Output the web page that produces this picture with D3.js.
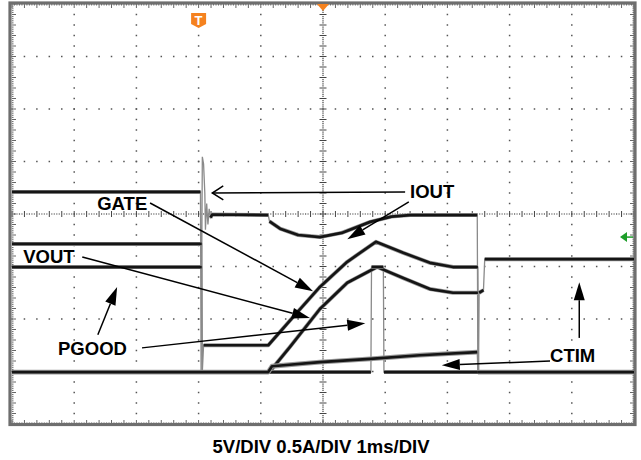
<!DOCTYPE html>
<html>
<head>
<meta charset="utf-8">
<script src="https://cdn.jsdelivr.net/npm/d3@7"></script>
<style>
  html, body { margin: 0; padding: 0; background: #fff; }
  svg { display: block; font-family: "Liberation Sans", Arial, sans-serif; }
</style>
</head>
<body>
<script>
'use strict';

// time in ms (1 ms/div), level in divisions from the bottom of the screen
let iout = [[0,4.42],[3.03,4.42],[3.04,1.0],[3.06,5.09],[3.08,4.95],[3.10,4.4],[3.11,3.7],[3.13,4.2],
  [3.15,3.8],[3.17,4.1],[3.19,3.93],[3.22,3.99],[4.12,3.98],[4.14,3.86],[4.31,3.72],[4.6,3.60],
  [4.95,3.56],[5.3,3.64],[5.76,3.85],[6.1,3.95],[6.4,3.98],[7.48,3.98],[7.49,1.0]];
let gate = [[0,3.43],[3.05,3.43],[3.06,1.0],[3.08,1.5],[4.12,1.5],[4.55,2.08],[4.95,2.61],[5.39,3.09],
  [5.85,3.47],[6.29,3.26],[6.72,3.07],[7.09,2.99],[7.49,2.99],[7.50,1.0]];
let vout = [[0,0.99],[4.12,0.99],[4.18,1.05],[4.47,1.47],[4.95,2.19],[5.39,2.69],[5.87,2.99],
  [6.29,2.78],[6.72,2.57],[7.09,2.50],[7.49,2.50],[7.50,0.99],[10,0.99]];
let pgood = [[0,2.99],[3.05,2.99],[3.06,0.99],[5.77,0.99],[5.78,2.99],[5.97,2.99],[5.98,0.99],
  [7.50,0.99],[7.51,2.50],[7.58,2.55],[7.60,3.14],[10,3.14]];
let ctim = [[0,0.99],[4.12,0.99],[4.18,1.10],[4.95,1.18],[5.76,1.24],[6.56,1.31],[7.48,1.37],
  [7.49,0.99],[10,0.99]];

let labels = ["IOUT", "GATE", "VOUT", "PGOOD", "CTIM"];
let labelPos = [[6.40,4.30],[1.37,4.07],[0.18,3.06],[0.74,1.32],[8.65,1.18]];
// arrows: [from, to, filled]
let arrows = [
  [[6.32,4.42],[3.22,4.40],false],
  [[6.38,4.23],[5.39,3.52],true],
  [[2.22,4.21],[4.84,2.53],true],
  [[1.13,3.18],[4.79,2.02],true],
  [[1.38,1.70],[1.69,2.61],true],
  [[2.09,1.45],[5.68,1.92],true],
  [[9.12,1.64],[9.12,2.70],true],
  [[8.65,1.20],[6.91,1.12],true]
];
let caption = "5V/DIV 0.5A/DIV 1ms/DIV";
let triggerTime = 3.0;
let greenLevel = 3.56;

let svg = d3.select("body").append("svg")
  .attr("width", 641)
  .attr("height", 460);

let x = d3.scaleLinear().domain([0, 10]).range([12, 634]);
let y = d3.scaleLinear().domain([0, 8]).range([424, 4]);

drawGrid();
drawTraces();
drawMarkers();
drawNotes();

function drawGrid() {
  let g = svg.append("g").attr("fill", "#555");

  // dotted division lines
  for (let i = 1; i < 10; i++) {
    if (i === 5) continue;
    for (let k = 0; k <= 40; k++) {
      g.append("rect").attr("x", x(i) - 0.75).attr("y", y(k / 5) - 0.75)
        .attr("width", 1.5).attr("height", 1.5);
    }
  }
  for (let j = 1; j < 8; j++) {
    if (j === 4) continue;
    for (let k = 0; k <= 50; k++) {
      g.append("rect").attr("x", x(k / 5) - 0.75).attr("y", y(j) - 0.75)
        .attr("width", 1.5).attr("height", 1.5);
    }
  }

  // centre axes with minor ticks
  let c = svg.append("g").attr("stroke", "#444").attr("stroke-width", 1);
  for (let k = 0; k <= 250; k++) {
    let t = k / 25;
    let len = k % 5 === 0 ? 3 : 0.6;
    c.append("line").attr("x1", x(t)).attr("x2", x(t))
      .attr("y1", y(4) - len).attr("y2", y(4) + len)
      .attr("stroke-width", k % 5 === 0 ? 1 : 1.2);
    // border ticks top/bottom
    let bl = k % 5 === 0 ? 4 : 1.5;
    c.append("line").attr("x1", x(t)).attr("x2", x(t))
      .attr("y1", y(8)).attr("y2", y(8) + bl).attr("stroke", "#666");
    c.append("line").attr("x1", x(t)).attr("x2", x(t))
      .attr("y1", y(0)).attr("y2", y(0) - bl).attr("stroke", "#666");
  }
  for (let k = 0; k <= 200; k++) {
    let v = k / 25;
    let len = k % 5 === 0 ? 3.5 : 0.6;
    c.append("line").attr("y1", y(v)).attr("y2", y(v))
      .attr("x1", x(5) - len).attr("x2", x(5) + len)
      .attr("stroke-width", k % 5 === 0 ? 1 : 1.2);
    let bl = k % 5 === 0 ? 4 : 1.5;
    c.append("line").attr("y1", y(v)).attr("y2", y(v))
      .attr("x1", x(0)).attr("x2", x(0) + bl).attr("stroke", "#666");
    c.append("line").attr("y1", y(v)).attr("y2", y(v))
      .attr("x1", x(10)).attr("x2", x(10) - bl).attr("stroke", "#666");
  }

  // screen frame
  svg.append("rect")
    .attr("x", x(0) - 2).attr("y", y(8) - 1)
    .attr("width", x(10) - x(0) + 3).attr("height", y(0) - y(8) + 1.5)
    .attr("fill", "none").attr("stroke", "#6e6e6e").attr("stroke-width", 3.2);
}

// split a trace into runs; near-vertical steps are drawn thin and grey
function runs(points) {
  let out = [];
  let cur = [points[0]];
  for (let i = 1; i < points.length; i++) {
    let dx = Math.abs(x(points[i][0]) - x(points[i - 1][0]));
    if (dx < 1.6) {
      if (cur.length > 1) out.push(cur);
      cur = [points[i]];
    } else {
      cur.push(points[i]);
    }
  }
  if (cur.length > 1) out.push(cur);
  return out;
}

function drawTraces() {
  let line = d3.line().x(d => x(d[0])).y(d => y(d[1]));
  let traces = [iout, gate, vout, pgood, ctim];
  let g = svg.append("g").attr("fill", "none");

  traces.forEach(tr => {
    g.append("path").attr("d", line(tr))
      .attr("stroke", "#8a8a8a").attr("stroke-width", 1.3);
  });
  traces.forEach((tr, i) => {
    runs(tr).forEach(r => {
      g.append("path").attr("d", line(r))
        .attr("stroke", "#999").attr("stroke-width", i === 4 ? 4.8 : 4)
        .attr("stroke-linejoin", "round");
      g.append("path").attr("d", line(r))
        .attr("stroke", "#151515").attr("stroke-width", 2.7)
        .attr("stroke-linejoin", "round");
    });
  });
}

function drawMarkers() {
  // trigger position marker
  let tx = x(triggerTime);
  svg.append("path")
    .attr("d", `M${tx - 7.5},${13} h15 v11 l-7.5,4 l-7.5,-4 Z`)
    .attr("fill", "#f5821f");
  svg.append("text")
    .attr("x", tx).attr("y", 25)
    .attr("text-anchor", "middle")
    .attr("fill", "#fff")
    .attr("font-weight", "bold")
    .attr("font-size", 13)
    .text("T");

  // horizontal position marker at the top
  svg.append("path")
    .attr("d", `M${x(5) - 6},${y(8)} h12 l-6,7 Z`)
    .attr("fill", "#f5821f");

  // trigger level marker on the right
  let gy = y(greenLevel);
  svg.append("path")
    .attr("d", `M${x(10) - 14},${gy} l7,-5 v10 Z`)
    .attr("fill", "#1e9e2a");
  svg.append("line")
    .attr("x1", x(10) - 8).attr("x2", x(10) - 1)
    .attr("y1", gy).attr("y2", gy)
    .attr("stroke", "#1e9e2a").attr("stroke-width", 1.5);
}

function drawNotes() {
  let g = svg.append("g");

  arrows.forEach(a => {
    let x1 = x(a[0][0]), y1 = y(a[0][1]);
    let x2 = x(a[1][0]), y2 = y(a[1][1]);
    let ang = Math.atan2(y2 - y1, x2 - x1);
    let len = a[2] ? 18 : 11;
    let hw = a[2] ? 5.5 : 7;
    let bx = x2 - len * Math.cos(ang), by = y2 - len * Math.sin(ang);
    let px = -Math.sin(ang) * hw, py = Math.cos(ang) * hw;

    g.append("line")
      .attr("x1", x1).attr("y1", y1)
      .attr("x2", a[2] ? bx : x2).attr("y2", a[2] ? by : y2)
      .attr("stroke", "#000").attr("stroke-width", 1.5);

    if (a[2]) {
      g.append("path")
        .attr("d", `M${x2},${y2} L${bx + px},${by + py} L${bx - px},${by - py} Z`)
        .attr("fill", "#000");
    } else {
      g.append("path")
        .attr("d", `M${bx + px},${by + py} L${x2},${y2} L${bx - px},${by - py}`)
        .attr("fill", "none").attr("stroke", "#000").attr("stroke-width", 1.5);
    }
  });

  labels.forEach((lab, i) => {
    g.append("text")
      .attr("x", x(labelPos[i][0]))
      .attr("y", y(labelPos[i][1]))
      .attr("font-size", 18.5)
      .attr("font-weight", "bold")
      .attr("fill", "#000")
      .text(lab);
  });

  svg.append("text")
    .attr("x", 321)
    .attr("y", 453)
    .attr("text-anchor", "middle")
    .attr("font-size", 18.5)
    .attr("font-weight", "bold")
    .attr("fill", "#000")
    .text(caption);
}
</script>
</body>
</html>
